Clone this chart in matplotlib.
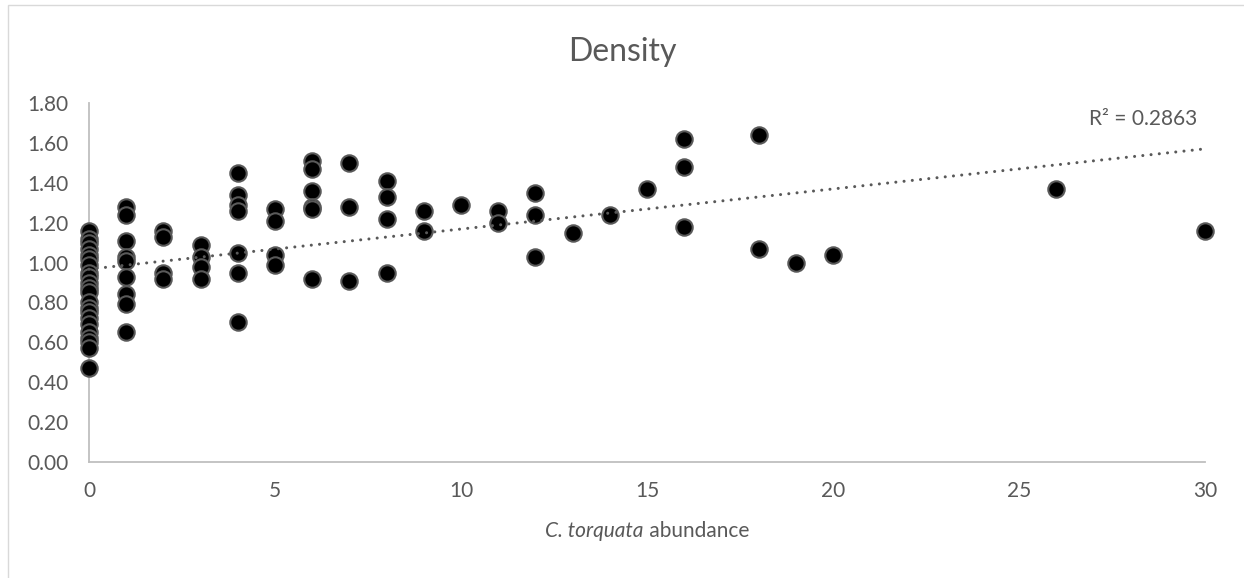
import numpy as np
import matplotlib
matplotlib.use("Agg")
import matplotlib.pyplot as plt
from matplotlib.patches import Rectangle

plt.rcParams['font.family'] = ['Lato', 'DejaVu Sans']

# abundance -> measured densities at that abundance
abund_0 = [1.16, 1.12, 1.10, 1.07, 1.04, 1.02, 0.99, 0.95, 0.93, 0.90, 0.87,
           0.85, 0.80, 0.77, 0.75, 0.72, 0.69, 0.65, 0.62, 0.60, 0.57, 0.47]
abund_1 = [1.28, 1.24, 1.11, 1.03, 1.01, 0.93, 0.84, 0.79, 0.65]
abund_2 = [1.16, 1.13, 0.95, 0.92]
abund_3 = [1.09, 1.03, 0.98, 0.92]
abund_4 = [1.45, 1.34, 1.29, 1.26, 1.05, 0.95, 0.70]
abund_5 = [1.27, 1.21, 1.04, 0.99]
abund_6 = [1.51, 1.47, 1.36, 1.28, 1.27, 0.92]
abund_7 = [1.50, 1.28, 0.91]
abund_8 = [1.41, 1.33, 1.22, 0.95]
abund_9 = [1.26, 1.16]
abund_10 = [1.29]
abund_11 = [1.26, 1.20]
abund_12 = [1.35, 1.24, 1.03]
abund_13 = [1.15]
abund_14 = [1.24]
abund_15 = [1.37]
abund_16 = [1.62, 1.48, 1.18]
abund_18 = [1.64, 1.07]
abund_19 = [1.00]
abund_20 = [1.04]
abund_26 = [1.37]
abund_30 = [1.16]

groups = {0: abund_0, 1: abund_1, 2: abund_2, 3: abund_3, 4: abund_4,
          5: abund_5, 6: abund_6, 7: abund_7, 8: abund_8, 9: abund_9,
          10: abund_10, 11: abund_11, 12: abund_12, 13: abund_13,
          14: abund_14, 15: abund_15, 16: abund_16, 18: abund_18,
          19: abund_19, 20: abund_20, 26: abund_26, 30: abund_30}

x = np.concatenate([[k] * len(v) for k, v in groups.items()]).astype(float)
y = np.concatenate(list(groups.values()))

r2_label = "R² = 0.2863"
x_ticks = [0, 5, 10, 15, 20, 25, 30]
y_ticks = np.arange(0, 1.81, 0.2)

# linear trendline through all points
slope, intercept = np.polyfit(x, y, 1)

grey_text = '#595959'
grey_axis = '#BFBFBF'

fig = plt.figure(figsize=(12.44, 5.78), dpi=100)
ax = fig.add_axes([89 / 1244, 1 - 462 / 578, (1205 - 89) / 1244, (462 - 103) / 578])

# outer chart border
fig.patches.append(Rectangle((8 / 1244, -0.01), 1.0, 1 - 5 / 578 + 0.01,
                             transform=fig.transFigure, fill=False,
                             edgecolor='#D9D9D9', linewidth=1.0))

ax.scatter(x, y, s=140, color='black', edgecolors='#595959',
           linewidths=1.5, zorder=3, clip_on=False)

xx = np.array([0, 30])
ax.plot(xx, intercept + slope * xx, color='#595959', linewidth=2.2,
        linestyle=(0, (0.01, 2.7)), dash_capstyle='round', zorder=4,
        clip_on=False)

ax.text(29.8, 1.72, r2_label, ha='right', va='center', fontsize=15,
        color=grey_text)

ax.set_xlim(0, 30)
ax.set_ylim(0, 1.8)
ax.set_xticks(x_ticks)
ax.set_yticks(y_ticks)
ax.set_yticklabels([f'{v:.2f}' for v in y_ticks])
ax.tick_params(length=0, labelsize=15, labelcolor=grey_text)
ax.tick_params(axis='y', pad=15)
ax.tick_params(axis='x', pad=14)

for side in ['top', 'right']:
    ax.spines[side].set_visible(False)
for side in ['left', 'bottom']:
    ax.spines[side].set_color(grey_axis)
    ax.spines[side].set_linewidth(1.3)

# x label: italic species name followed by upright word, centred as one line
label_y = 1 - 531 / 578
t_it = fig.text(0, label_y, 'C. torquata', style='italic', fontsize=15,
                color=grey_text, va='center', ha='left')
t_rm = fig.text(0, label_y, ' abundance', fontsize=15,
                color=grey_text, va='center', ha='left')
fig.canvas.draw()
renderer = fig.canvas.get_renderer()
w_it = t_it.get_window_extent(renderer).width / fig.bbox.width
w_rm = t_rm.get_window_extent(renderer).width / fig.bbox.width
x_mid = (89 + 1205) / 2 / 1244
start = x_mid - (w_it + w_rm) / 2
t_it.set_x(start)
t_rm.set_x(start + w_it)

fig.text(0.5, 1 - 52 / 578, 'Density', ha='center', va='center',
         fontsize=23, color=grey_text)

fig.savefig('out.png', dpi=100)
